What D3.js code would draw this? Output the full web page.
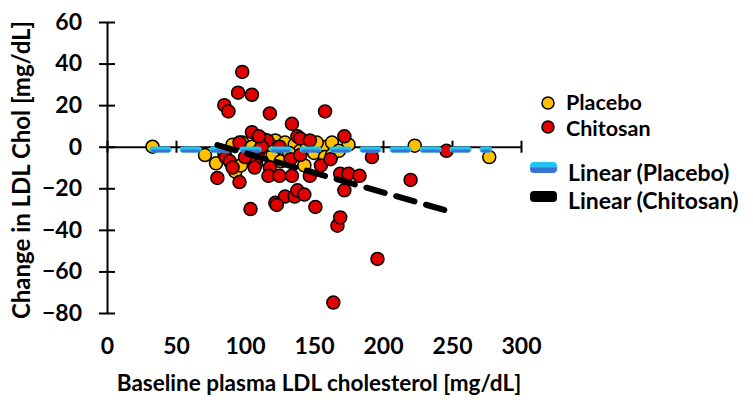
<!DOCTYPE html>
<html>
<head>
<meta charset="utf-8">
<script src="https://cdn.jsdelivr.net/npm/d3@7"></script>
<style>
  body { margin: 0; background: #fff; }
  text { font-family: Lato, "Open Sans", sans-serif; font-weight: bold; }
</style>
</head>
<body>
<div id="chart"></div>
<script>
// baseline LDL (mg/dL) and change in LDL (mg/dL)
let placeboBaseline = [33, 71, 79, 93, 91, 98, 105, 110, 115, 122, 129, 136, 140, 145, 150, 155, 159, 163, 175, 158, 163, 223, 277, 100, 108, 120, 126, 132, 118, 112, 85, 97, 143, 168, 152];
let placeboChange   = [0, -4, -8, -12, 1, 2, 0, -2, 3, 3, 2, 1, -2, 0, -3, 0, 0, 2, 1, -5, -4, 0.5, -5, -6, -8, -4, -7, -3, 1, 4, -3, -9, -9, -2, 2];

let chitosanBaseline = [98, 95, 105, 85, 88, 118, 158, 134, 105, 96, 116, 138, 140, 147, 172, 80, 96, 104, 86, 89, 91, 107, 107, 118, 117, 125, 134, 122, 129, 136, 138, 123, 100, 151, 143, 164, 196, 167, 169, 172, 169, 175, 183, 192, 220, 246, 109, 112, 125, 133, 140, 147, 155, 162, 110];
let chitosanChange   = [36, 26, 25, 20, 17, 16, 17, 11, 7, 2, 3, 5, 4, 3, 5, -15, -17, -30, -5, -7, -10, -7, -10, -10, -14, -14, -14, -27, -24, -24, -21, -28, -5, -29, -23, -75, -54, -38, -34, -21, -13, -13, -14, -5, -16, -2, -3, 0, 0, -6, -4, -14, -9, -6, 5];

// linear trend lines [intercept, slope]
let placeboTrend = [-1.4, 0.0003];
let chitosanTrend = [16, -0.19];

let xTicks = [0, 50, 100, 150, 200, 250, 300];
let yTicks = [60, 40, 20, 0, -20, -40, -60, -80];

let legendLabels = ["Placebo", "Chitosan", "Linear (Placebo)", "Linear (Chitosan)"];

let margin = {top: 22, left: 107},
    width = 414,
    height = 291;

let svg = d3.select("#chart")
    .append("svg")
        .attr("width", 753)
        .attr("height", 400);

let g = svg.append("g")
    .attr("transform", `translate(${margin.left},${margin.top})`);

let x = d3.scaleLinear().domain([0, 300]).range([0, width]);
let y = d3.scaleLinear().domain([-80, 60]).range([height, 0]);

// y axis with ticks crossing the line
let yAxis = g.append("g")
    .call(d3.axisLeft(y).tickValues(yTicks).tickSize(8).tickPadding(17).tickSizeOuter(0));
yAxis.select(".domain").attr("stroke", "#000").attr("stroke-width", 2);
yAxis.selectAll(".tick line").attr("x1", 8).attr("stroke-width", 2);
yAxis.selectAll(".tick text").attr("font-size", 23).attr("fill", "#000");

// x axis along zero, labels at bottom
let xAxis = g.append("g")
    .attr("transform", `translate(0,${y(0)})`)
    .call(d3.axisBottom(x).tickValues(xTicks).tickSize(6).tickSizeOuter(0));
xAxis.select(".domain").attr("stroke", "#000").attr("stroke-width", 2);
xAxis.selectAll(".tick line").attr("y1", -6).attr("stroke-width", 2);
xAxis.selectAll(".tick text")
    .attr("font-size", 23).attr("fill", "#000")
    .attr("y", y(-80) - y(0) + 25);

// points
let placebo = placeboBaseline.map((b, i) => [b, placeboChange[i]]);
let chitosan = chitosanBaseline.map((b, i) => [b, chitosanChange[i]]);

g.selectAll(".placebo")
    .data(placebo)
    .join("circle")
    .attr("cx", d => x(d[0]))
    .attr("cy", d => y(d[1]))
    .attr("r", 6.5)
    .attr("fill", "#FFC000")
    .attr("stroke", "#000")
    .attr("stroke-width", 1.5);

g.selectAll(".chitosan")
    .data(chitosan)
    .join("circle")
    .attr("cx", d => x(d[0]))
    .attr("cy", d => y(d[1]))
    .attr("r", 6.5)
    .attr("fill", "#E00000")
    .attr("stroke", "#000")
    .attr("stroke-width", 1.5);

// trend lines
function trendPoints(xs, coef) {
    let ext = d3.extent(xs);
    return ext.map(v => [v, coef[0] + coef[1] * v]);
}
let line = d3.line().x(d => x(d[0])).y(d => y(d[1]));

let pt = trendPoints(placeboBaseline, placeboTrend);
g.append("path").datum(pt)
    .attr("d", line)
    .attr("fill", "none").attr("stroke", "#22C4F0")
    .attr("stroke-width", 6).attr("stroke-linecap", "round")
    .attr("stroke-dasharray", "16 14");
g.append("path").datum(pt)
    .attr("d", line)
    .attr("transform", "translate(0,1.5)")
    .attr("fill", "none").attr("stroke", "#3A72D6")
    .attr("stroke-width", 3).attr("stroke-linecap", "round")
    .attr("stroke-dasharray", "16 14");

g.append("path").datum(trendPoints(chitosanBaseline, chitosanTrend))
    .attr("d", line)
    .attr("fill", "none").attr("stroke", "#000")
    .attr("stroke-width", 6).attr("stroke-linecap", "round")
    .attr("stroke-dasharray", "19 12");

// axis titles
svg.append("text")
    .attr("x", 319).attr("y", 391)
    .attr("text-anchor", "middle")
    .attr("font-size", 22.5)
    .text("Baseline plasma LDL cholesterol [mg/dL]");

svg.append("text")
    .attr("transform", "translate(30,170) rotate(-90)")
    .attr("text-anchor", "middle")
    .attr("font-size", 24)
    .text("Change in LDL Chol [mg/dL]");

// legend
let leg = svg.append("g");
leg.append("circle").attr("cx", 548).attr("cy", 103).attr("r", 6)
    .attr("fill", "#FFC000").attr("stroke", "#000").attr("stroke-width", 1.5);
leg.append("circle").attr("cx", 548).attr("cy", 127).attr("r", 6)
    .attr("fill", "#E00000").attr("stroke", "#000").attr("stroke-width", 1.5);

let grad = svg.append("defs").append("linearGradient")
    .attr("id", "pl").attr("x1", 0).attr("y1", 0).attr("x2", 0).attr("y2", 1);
grad.append("stop").attr("offset", "0%").attr("stop-color", "#22C4F0");
grad.append("stop").attr("offset", "45%").attr("stop-color", "#22C4F0");
grad.append("stop").attr("offset", "55%").attr("stop-color", "#3A72D6");
grad.append("stop").attr("offset", "100%").attr("stop-color", "#3A72D6");

leg.append("rect").attr("x", 530).attr("y", 162).attr("width", 27).attr("height", 11)
    .attr("rx", 4).attr("fill", "url(#pl)");
leg.append("rect").attr("x", 530).attr("y", 191).attr("width", 27).attr("height", 11)
    .attr("rx", 4).attr("fill", "#000");

let legPos = [[566, 110], [566, 136], [568, 181], [568, 209]];
let legSize = [21.5, 21.5, 23, 23];
leg.selectAll(".lt")
    .data(legendLabels)
    .join("text")
    .attr("x", (d, i) => legPos[i][0])
    .attr("y", (d, i) => legPos[i][1])
    .attr("font-size", (d, i) => legSize[i])
    .text(d => d);
</script>
</body>
</html>
